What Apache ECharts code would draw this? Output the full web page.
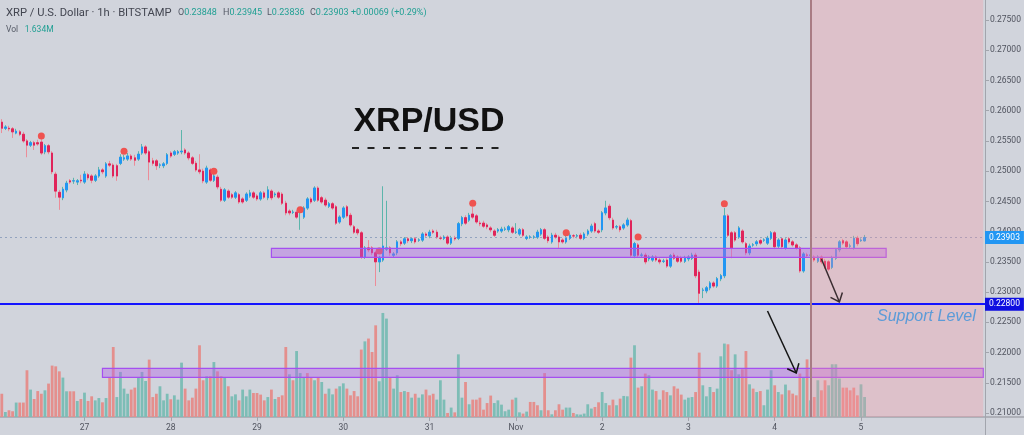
<!DOCTYPE html>
<html>
<head>
<meta charset="utf-8">
<script src="https://cdn.jsdelivr.net/npm/echarts/dist/echarts.min.js"></script>
<style>
html,body{margin:0;padding:0;background:#d1d4dc;}
#c{width:1024px;height:435px;}
</style>
</head>
<body>
<div id="c"></div>
<script>
// ---------------- DATA (hourly XRP/USD, Bitstamp) ----------------
const startTime = Date.UTC(2020, 9, 26, 1);   // first candle: Oct 26, 01:00
const categoryCount = 274;                      // candles + empty future space
const dayLabels = ['27', '28', '29', '30', '31', 'Nov', '2', '3', '4', '5'];
const firstDayIndex = 23;                       // Oct 27 00:00

const opens = [
0.2581,0.2571,0.2571,0.2570,0.2563,0.2565,0.2561,0.2550,0.2543,0.2547,
0.2547,0.2548,0.2532,0.2542,0.2530,0.2495,0.2465,0.2456,0.2469,0.2484,
0.2484,0.2482,0.2485,0.2482,0.2494,0.2492,0.2485,0.2492,0.2502,0.2492,
0.2512,0.2510,0.2509,0.2513,0.2520,0.2520,0.2525,0.2522,0.2520,0.2530,
0.2540,0.2532,0.2517,0.2517,0.2510,0.2509,0.2513,0.2530,0.2528,0.2530,
0.2532,0.2535,0.2530,0.2522,0.2513,0.2502,0.2500,0.2482,0.2502,0.2485,
0.2490,0.2470,0.2452,0.2467,0.2461,0.2457,0.2461,0.2454,0.2452,0.2459,
0.2464,0.2459,0.2454,0.2464,0.2456,0.2467,0.2461,0.2464,0.2462,0.2447,
0.2434,0.2432,0.2432,0.2432,0.2424,0.2439,0.2454,0.2452,0.2472,0.2456,
0.2452,0.2442,0.2446,0.2441,0.2416,0.2424,0.2441,0.2427,0.2408,0.2403,
0.2398,0.2358,0.2373,0.2373,0.2365,0.2350,0.2353,0.2371,0.2373,0.2361,
0.2365,0.2383,0.2381,0.2388,0.2385,0.2388,0.2386,0.2386,0.2396,0.2393,
0.2401,0.2399,0.2389,0.2389,0.2391,0.2381,0.2389,0.2389,0.2413,0.2423,
0.2419,0.2429,0.2426,0.2414,0.2414,0.2411,0.2406,0.2401,0.2401,0.2401,
0.2404,0.2403,0.2406,0.2399,0.2396,0.2403,0.2389,0.2391,0.2391,0.2391,
0.2396,0.2403,0.2391,0.2383,0.2394,0.2391,0.2386,0.2383,0.2389,0.2393,
0.2393,0.2394,0.2389,0.2396,0.2401,0.2413,0.2401,0.2403,0.2431,0.2442,
0.2419,0.2408,0.2408,0.2406,0.2411,0.2418,0.2360,0.2378,0.2361,0.2361,
0.2355,0.2353,0.2358,0.2353,0.2351,0.2353,0.2343,0.2361,0.2358,0.2356,
0.2351,0.2355,0.2356,0.2361,0.2333,0.2303,0.2302,0.2307,0.2315,0.2310,
0.2322,0.2327,0.2426,0.2398,0.2398,0.2391,0.2401,0.2380,0.2365,0.2378,
0.2380,0.2385,0.2386,0.2381,0.2389,0.2398,0.2376,0.2388,0.2373,0.2388,
0.2383,0.2378,0.2373,0.2335,0.2361,0.2361,0.2358,0.2351,0.2358,0.2351,
0.2350,0.2341,0.2356,0.2370,0.2385,0.2383,0.2376,0.2373,0.2389,0.2385,
0.23848];

const closes = [
0.2571,0.2573,0.2570,0.2565,0.2566,0.2561,0.2550,0.2543,0.2547,0.2543,
0.2545,0.2530,0.2542,0.2532,0.2499,0.2467,0.2457,0.2470,0.2480,0.2482,
0.2484,0.2484,0.2484,0.2495,0.2489,0.2485,0.2492,0.2502,0.2499,0.2512,
0.2510,0.2492,0.2492,0.2523,0.2522,0.2525,0.2520,0.2518,0.2528,0.2540,
0.2530,0.2515,0.2513,0.2509,0.2510,0.2512,0.2527,0.2525,0.2532,0.2532,
0.2533,0.2530,0.2522,0.2513,0.2502,0.2499,0.2484,0.2505,0.2485,0.2492,
0.2474,0.2452,0.2469,0.2457,0.2457,0.2464,0.2449,0.2449,0.2462,0.2464,
0.2457,0.2454,0.2464,0.2457,0.2469,0.2456,0.2462,0.2457,0.2447,0.2431,
0.2431,0.2432,0.2424,0.2434,0.2439,0.2454,0.2449,0.2472,0.2452,0.2449,
0.2444,0.2446,0.2439,0.2414,0.2424,0.2439,0.2426,0.2411,0.2399,0.2398,
0.2358,0.2373,0.2370,0.2365,0.2350,0.2356,0.2376,0.2373,0.2365,0.2363,
0.2383,0.2380,0.2388,0.2385,0.2388,0.2383,0.2386,0.2396,0.2394,0.2399,
0.2399,0.2391,0.2389,0.2391,0.2381,0.2389,0.2388,0.2413,0.2423,0.2414,
0.2427,0.2424,0.2416,0.2413,0.2409,0.2408,0.2403,0.2394,0.2403,0.2404,
0.2404,0.2408,0.2399,0.2399,0.2403,0.2394,0.2391,0.2391,0.2391,0.2399,
0.2403,0.2389,0.2385,0.2394,0.2391,0.2383,0.2383,0.2389,0.2394,0.2393,
0.2393,0.2389,0.2396,0.2401,0.2409,0.2401,0.2399,0.2431,0.2439,0.2423,
0.2406,0.2408,0.2403,0.2411,0.2419,0.2361,0.2380,0.2361,0.2361,0.2350,
0.2358,0.2358,0.2353,0.2350,0.2351,0.2343,0.2360,0.2356,0.2351,0.2351,
0.2356,0.2358,0.2361,0.2327,0.2298,0.2303,0.2307,0.2315,0.2310,0.2322,
0.2327,0.2426,0.2394,0.2373,0.2386,0.2406,0.2383,0.2365,0.2376,0.2378,
0.2383,0.2381,0.2386,0.2389,0.2398,0.2375,0.2386,0.2375,0.2386,0.2383,
0.2378,0.2373,0.2335,0.2363,0.2361,0.2361,0.2353,0.2358,0.2350,0.2341,
0.2338,0.2356,0.2370,0.2383,0.2381,0.2375,0.2376,0.2389,0.2380,0.2386,
0.23903];

const highs = [
0.2586,0.2576,0.2575,0.2573,0.2570,0.2568,0.2565,0.2553,0.2550,0.2550,
0.2552,0.2553,0.2545,0.2545,0.2533,0.2499,0.2469,0.2474,0.2484,0.2487,
0.2489,0.2487,0.2494,0.2500,0.2497,0.2495,0.2495,0.2507,0.2505,0.2515,
0.2517,0.2513,0.2512,0.2528,0.2527,0.2530,0.2528,0.2527,0.2533,0.2545,
0.2543,0.2535,0.2522,0.2520,0.2513,0.2515,0.2530,0.2533,0.2535,0.2535,
0.2568,0.2538,0.2533,0.2525,0.2517,0.2528,0.2504,0.2509,0.2505,0.2497,
0.2494,0.2474,0.2472,0.2470,0.2464,0.2467,0.2464,0.2457,0.2465,0.2469,
0.2467,0.2462,0.2467,0.2467,0.2475,0.2470,0.2465,0.2467,0.2465,0.2451,
0.2437,0.2436,0.2436,0.2434,0.2442,0.2457,0.2457,0.2475,0.2475,0.2459,
0.2456,0.2449,0.2449,0.2444,0.2427,0.2442,0.2444,0.2431,0.2411,0.2406,
0.2401,0.2376,0.2386,0.2376,0.2368,0.2360,0.2475,0.2451,0.2376,0.2366,
0.2386,0.2386,0.2391,0.2391,0.2391,0.2391,0.2389,0.2399,0.2399,0.2403,
0.2404,0.2403,0.2393,0.2394,0.2394,0.2393,0.2393,0.2416,0.2426,0.2427,
0.2431,0.2441,0.2429,0.2418,0.2418,0.2414,0.2409,0.2404,0.2406,0.2408,
0.2408,0.2411,0.2409,0.2414,0.2406,0.2406,0.2394,0.2394,0.2394,0.2403,
0.2406,0.2406,0.2394,0.2398,0.2398,0.2394,0.2389,0.2393,0.2398,0.2396,
0.2396,0.2398,0.2399,0.2404,0.2413,0.2416,0.2404,0.2434,0.2451,0.2446,
0.2423,0.2411,0.2411,0.2414,0.2423,0.2421,0.2383,0.2381,0.2365,0.2365,
0.2361,0.2361,0.2361,0.2356,0.2355,0.2356,0.2363,0.2365,0.2361,0.2360,
0.2360,0.2361,0.2365,0.2365,0.2337,0.2307,0.2310,0.2318,0.2318,0.2325,
0.2330,0.2439,0.2429,0.2401,0.2401,0.2409,0.2404,0.2383,0.2380,0.2381,
0.2386,0.2388,0.2389,0.2393,0.2401,0.2401,0.2389,0.2391,0.2389,0.2391,
0.2386,0.2381,0.2376,0.2366,0.2365,0.2365,0.2361,0.2361,0.2361,0.2355,
0.2353,0.2360,0.2373,0.2386,0.2388,0.2386,0.2380,0.2393,0.2393,0.2389,
0.23945];

const lows = [
0.2563,0.2568,0.2566,0.2555,0.2561,0.2558,0.2547,0.2523,0.2540,0.2535,
0.2542,0.2527,0.2528,0.2528,0.2495,0.2456,0.2436,0.2452,0.2465,0.2479,
0.2479,0.2477,0.2480,0.2479,0.2485,0.2480,0.2482,0.2489,0.2495,0.2489,
0.2507,0.2489,0.2484,0.2510,0.2517,0.2517,0.2517,0.2509,0.2517,0.2527,
0.2527,0.2485,0.2509,0.2502,0.2505,0.2505,0.2510,0.2522,0.2525,0.2527,
0.2528,0.2527,0.2518,0.2510,0.2499,0.2495,0.2480,0.2479,0.2482,0.2482,
0.2470,0.2449,0.2449,0.2454,0.2454,0.2454,0.2446,0.2446,0.2449,0.2456,
0.2454,0.2451,0.2451,0.2454,0.2452,0.2452,0.2457,0.2454,0.2444,0.2427,
0.2427,0.2429,0.2421,0.2403,0.2421,0.2436,0.2446,0.2449,0.2449,0.2446,
0.2441,0.2439,0.2436,0.2411,0.2413,0.2421,0.2423,0.2408,0.2396,0.2394,
0.2355,0.2355,0.2366,0.2361,0.2310,0.2333,0.2350,0.2368,0.2360,0.2358,
0.2361,0.2376,0.2378,0.2381,0.2381,0.2380,0.2383,0.2383,0.2391,0.2389,
0.2396,0.2388,0.2386,0.2386,0.2378,0.2378,0.2385,0.2386,0.2409,0.2411,
0.2416,0.2421,0.2413,0.2409,0.2406,0.2404,0.2399,0.2391,0.2398,0.2398,
0.2401,0.2399,0.2396,0.2396,0.2393,0.2391,0.2386,0.2388,0.2388,0.2388,
0.2393,0.2386,0.2381,0.2380,0.2388,0.2373,0.2380,0.2380,0.2386,0.2389,
0.2389,0.2386,0.2386,0.2393,0.2398,0.2398,0.2396,0.2399,0.2427,0.2419,
0.2403,0.2404,0.2399,0.2403,0.2408,0.2358,0.2356,0.2358,0.2358,0.2346,
0.2351,0.2350,0.2350,0.2346,0.2348,0.2340,0.2340,0.2353,0.2348,0.2348,
0.2348,0.2351,0.2353,0.2323,0.2282,0.2290,0.2298,0.2303,0.2307,0.2307,
0.2318,0.2323,0.2391,0.2356,0.2383,0.2388,0.2380,0.2361,0.2361,0.2375,
0.2376,0.2378,0.2383,0.2378,0.2386,0.2371,0.2373,0.2371,0.2370,0.2380,
0.2375,0.2370,0.2332,0.2332,0.2358,0.2358,0.2350,0.2348,0.2346,0.2338,
0.2335,0.2338,0.2353,0.2366,0.2378,0.2371,0.2373,0.2370,0.2376,0.2383,
0.23836];

// volume in millions
const volumes = [
1.90,0.41,0.55,0.47,1.18,1.18,1.18,3.82,2.24,1.47,
2.12,1.90,2.18,2.73,4.20,4.14,3.73,3.22,2.10,2.10,
2.10,1.31,1.47,1.99,1.31,1.69,1.36,1.55,1.20,1.55,
3.22,5.72,1.63,3.68,2.32,1.90,2.24,2.40,3.22,3.68,
2.94,4.69,1.63,1.90,2.51,1.36,1.90,1.45,1.77,1.42,
4.44,2.32,1.36,1.58,2.32,5.86,3.00,3.33,3.33,4.49,
3.73,3.33,3.27,2.51,1.69,1.85,1.36,2.24,1.69,2.24,
1.96,1.96,1.83,1.36,1.63,2.24,1.47,1.63,1.77,5.72,
3.49,3.00,5.39,3.59,3.27,3.59,3.22,3.00,3.27,2.86,
1.90,2.32,1.85,2.32,2.51,2.75,2.32,1.77,2.12,1.69,
5.51,6.18,6.41,5.31,7.49,2.92,8.50,8.04,3.22,2.32,
3.41,2.04,2.12,2.04,1.58,1.90,1.58,1.85,2.24,1.77,
1.90,1.42,3.00,1.42,0.33,0.77,0.38,5.12,1.58,2.86,
1.04,1.42,1.42,1.58,0.60,1.14,1.75,1.14,1.36,1.01,
0.47,0.60,1.42,1.58,0.38,0.28,0.44,1.23,1.23,0.96,
0.55,3.59,0.55,0.22,0.55,1.04,0.60,0.77,0.77,0.33,
0.22,0.20,0.28,1.04,0.69,0.82,1.20,2.04,1.14,0.96,
1.42,0.96,1.50,1.72,1.69,4.85,5.86,2.40,2.51,3.55,
3.41,2.24,2.12,1.42,2.18,2.04,1.77,2.51,2.32,1.83,
1.42,1.58,1.63,2.04,5.26,2.59,1.69,2.45,2.04,2.32,
4.96,6.00,5.94,3.82,5.12,3.49,3.90,5.39,2.67,2.32,
2.04,2.12,0.96,2.24,3.82,2.59,2.04,1.85,2.65,2.18,
1.91,1.77,3.55,3.27,4.71,1.36,1.63,3.00,2.18,3.00,
2.59,4.31,4.31,3.14,2.40,2.40,2.18,2.40,1.77,2.67,
1.634];

// 1 = up bar (teal), 0 = down bar (red)
const volumeUp = [
0,1,0,0,1,0,0,0,1,0, 0,0,1,0,0,0,0,1,1,0, 0,1,0,1,0,0,1,1,0,1,
0,0,1,1,1,1,0,0,1,1, 1,0,0,0,1,1,1,0,1,1, 1,0,0,0,0,0,0,1,0,1,
0,0,1,0,1,1,0,1,1,1, 0,0,0,0,1,0,1,0,0,0, 1,0,1,1,1,0,0,1,0,1,
0,1,1,0,1,1,0,0,0,0, 0,1,0,0,0,1,1,1,0,1, 1,0,1,0,1,0,1,1,0,0,
0,1,1,1,0,1,0,1,1,0, 1,0,0,0,0,0,0,1,1,1, 1,1,0,1,1,0,1,0,0,0,
1,0,0,1,0,0,0,1,1,0, 1,1,1,1,1,0,0,1,1,0, 0,1,0,1,1,0,1,0,1,0,
1,1,0,1,0,0,1,0,0,0, 1,1,1,0,0,1,1,1,0,1, 1,1,0,0,1,1,0,0,1,0,
1,0,1,1,1,0,1,0,1,0, 0,0,0,1,0,1,0,1,0,0, 1,1,1,1,0,0,0,0,0,1,
1];

// indicator dots above swing highs
const dotIndex = [11, 34, 59, 83, 105, 131, 157, 177, 201];
const dotPrice = [0.2558, 0.2533, 0.2500, 0.2436, 0.2368, 0.2447, 0.2398, 0.2391, 0.2446];

// annotations
const lastClose = 0.23903;
const supportLevel = 0.228;
const priceBand = [0.23575, 0.23724];      // purple zone on price
const priceBandRange = [75, 246];
const volumeBand = [3.24, 3.98];           // purple zone on volume
const volumeBandRange = [28, 273];
const forecastRange = [225, 273];          // shaded future area
const arrowStarts = [[213, 0.22687], [228, 0.23547]];
const arrowEnds = [[221, 0.21662], [233, 0.22836]];

// ---------------- BUILD ----------------
const times = [];
for (let k = 0; k < categoryCount; k++) {
  const d = new Date(startTime + k * 3600000);
  times.push(d.toISOString().slice(0, 13).replace('T', ' ') + ':00');
}
const labelAt = {};
dayLabels.forEach((t, k) => { labelAt[firstDayIndex + 24 * k] = t; });
const showLabel = (idx) => labelAt[idx] !== undefined;

const UP_BODY = '#2196f3', DOWN_BODY = '#e0245a';
const UP_WICK = '#5cb5ab', DOWN_WICK = '#ec8c98';
const UP_VOL = '#7dbdb6', DOWN_VOL = '#e48f8d';

const wickData = opens.map((o, i) => [o, closes[i], lows[i], highs[i]]);
const bodyData = opens.map((o, i) => [o, closes[i], Math.min(o, closes[i]), Math.max(o, closes[i])]);
const volData = volumes.map((v, i) => ({ value: v, itemStyle: { color: volumeUp[i] ? UP_VOL : DOWN_VOL } }));
const dotData = dotIndex.map((x, k) => [x, dotPrice[k]]);

const chart = echarts.init(document.getElementById('c'), null, { renderer: 'canvas' });

const option = {
  animation: false,
  backgroundColor: '#d1d4dc',
  grid: { left: 0, right: 39, top: 0, bottom: 18, containLabel: false, outerBoundsMode: 'none' },
  xAxis: {
    type: 'category', data: times, boundaryGap: true,
    axisLine: { show: true, lineStyle: { color: '#a2a5ad', width: 1.5 } },
    axisTick: { show: true, alignWithLabel: true, interval: (i) => showLabel(i), length: 4, lineStyle: { color: '#a2a5ad' } },
    axisLabel: { interval: (i) => showLabel(i), formatter: (v, i) => labelAt[i] || '', color: '#50535e', fontSize: 8.5, margin: 6, fontFamily: 'Roboto' },
    splitLine: { show: false }
  },
  yAxis: [
    {
      type: 'value', position: 'right', min: 0.209336, max: 0.278308, splitNumber: 14,
      axisLine: { show: true, lineStyle: { color: '#a2a5ad', width: 1 } },
      axisTick: { show: true, length: 4, lineStyle: { color: '#a2a5ad' } },
      axisLabel: { color: '#50535e', fontSize: 8.5, margin: 5, fontFamily: 'Roboto', showMinLabel: false, showMaxLabel: false, formatter: (v) => v.toFixed(5) },
      splitLine: { show: false }
    },
    { type: 'value', min: 0, max: 34.07, show: false }
  ],
  series: [
    {
      name: 'volume', type: 'bar', yAxisIndex: 1, data: volData, barWidth: '78%', z: 1, silent: true
    },
    {
      name: 'wicks', type: 'candlestick', data: wickData, barWidth: 2, z: 2, silent: true,
      itemStyle: { color: 'transparent', color0: 'transparent', borderColor: UP_WICK, borderColor0: DOWN_WICK, borderWidth: 1 }
    },
    {
      name: 'bodies', type: 'candlestick', data: bodyData, barWidth: 2, z: 3, silent: true,
      itemStyle: { color: UP_BODY, color0: DOWN_BODY, borderColor: UP_BODY, borderColor0: DOWN_BODY, borderWidth: 1 }
    },
    {
      name: 'dots', type: 'scatter', data: dotData, symbolSize: 7, z: 4, silent: true,
      itemStyle: { color: '#ef5350', opacity: 1 }
    },
    {
      name: 'priceZone', type: 'line', yAxisIndex: 0, data: [], silent: true,
      markArea: {
        silent: true, z: 10,
        itemStyle: { color: 'rgba(178,98,232,0.42)', borderColor: '#a54ff0', borderWidth: 1.2 },
        data: [[{ xAxis: priceBandRange[0], yAxis: priceBand[0] }, { xAxis: priceBandRange[1], yAxis: priceBand[1] }]]
      },
      markLine: {
        silent: true, z: 3, symbol: ['none', 'none'], precision: 6,
        data: [{
          yAxis: lastClose,
          lineStyle: { color: '#93a3bf', width: 1, type: [2, 3] },
          label: { show: true, position: 'end', distance: 0, formatter: lastClose.toFixed(5), backgroundColor: '#2196f3', color: '#ffffff', fontSize: 8.5, fontFamily: 'Roboto', padding: [2, 4, 2, 4] }
        }]
      }
    },
    {
      name: 'volumeZone', type: 'line', yAxisIndex: 1, data: [], silent: true,
      markArea: {
        silent: true, z: 10,
        itemStyle: { color: 'rgba(178,98,232,0.42)', borderColor: '#a54ff0', borderWidth: 1.2 },
        data: [[{ xAxis: volumeBandRange[0], yAxis: volumeBand[0] }, { xAxis: volumeBandRange[1], yAxis: volumeBand[1] }]]
      }
    },
    {
      name: 'forecast', type: 'line', yAxisIndex: 0, data: [], silent: true,
      markArea: {
        silent: true, z: 11,
        itemStyle: { color: 'rgba(249,149,163,0.30)' },
        data: [[{ xAxis: forecastRange[0] }, { xAxis: forecastRange[1] }]]
      },
      markLine: {
        silent: true, z: 12, symbol: ['none', 'none'], precision: 6,
        data: [
          {
            yAxis: supportLevel,
            lineStyle: { color: '#1414ff', width: 2, type: 'solid' },
            label: { show: true, position: 'end', distance: 0, formatter: supportLevel.toFixed(5), backgroundColor: '#0e0ee0', color: '#ffffff', fontSize: 8.5, fontFamily: 'Roboto', padding: [2, 4, 2, 4] }
          },
          {
            xAxis: forecastRange[0],
            lineStyle: { color: '#a87c84', width: 2, type: 'solid' },
            label: { show: false }
          }
        ]
      }
    }
  ]
};
chart.setOption(option);

// ---------------- overlay graphics ----------------
const gfx = [];
const hdrY = 13;
gfx.push({ type: 'text', x: 6, y: hdrY, z: 100, style: { text: 'XRP / U.S. Dollar · 1h · BITSTAMP', fill: '#434651', fontSize: 11.2, fontFamily: 'Roboto', verticalAlign: 'middle' } });
const ohlc = [['O', opens[opens.length - 1], 178], ['H', highs[highs.length - 1], 223], ['L', lows[lows.length - 1], 267], ['C', closes[closes.length - 1], 310]];
ohlc.forEach(([k, v, x]) => {
  gfx.push({ type: 'text', x: x, y: hdrY, z: 100, style: {
    text: '{k|' + k + '}{v|' + v.toFixed(5) + '}', verticalAlign: 'middle',
    rich: { k: { fill: '#555a66', fontSize: 9, fontFamily: 'Roboto' }, v: { fill: '#22a094', fontSize: 9, fontFamily: 'Roboto' } }
  } });
});
gfx.push({ type: 'text', x: 351, y: hdrY, z: 100, style: { text: '+0.00069 (+0.29%)', fill: '#22a094', fontSize: 9, fontFamily: 'Roboto', verticalAlign: 'middle' } });
gfx.push({ type: 'text', x: 6, y: 30, z: 100, style: {
  text: '{k|Vol}  {v|' + volumes[volumes.length - 1].toFixed(3) + 'M}', verticalAlign: 'middle',
  rich: { k: { fill: '#555a66', fontSize: 8.5, fontFamily: 'Roboto' }, v: { fill: '#22a094', fontSize: 8.5, fontFamily: 'Roboto' } }
} });

// title
gfx.push({ type: 'text', x: 429, y: 122, z: 100, style: { text: 'XRP/USD', fill: '#111111', fontSize: 34, fontWeight: 'bold', fontFamily: 'Liberation Sans', align: 'center', verticalAlign: 'middle' } });
gfx.push({ type: 'line', z: 100, shape: { x1: 352, y1: 148, x2: 507, y2: 148 }, style: { stroke: '#222222', lineWidth: 2, lineDash: [7, 8.5] } });

// support label
const sp = chart.convertToPixel({ xAxisIndex: 0, yAxisIndex: 0 }, [0, supportLevel]);
gfx.push({ type: 'text', x: 877, y: sp[1] + 12, z: 100, style: { text: 'Support Level', fill: '#5b9bd8', fontSize: 16, fontStyle: 'italic', fontFamily: 'Liberation Sans', verticalAlign: 'middle' } });

// arrows
const arrowColors = ['#141414', '#3a2d31'];
arrowStarts.forEach((s, k) => {
  const p0 = chart.convertToPixel({ xAxisIndex: 0, yAxisIndex: 0 }, s);
  const p1 = chart.convertToPixel({ xAxisIndex: 0, yAxisIndex: 0 }, arrowEnds[k]);
  const dx = p1[0] - p0[0], dy = p1[1] - p0[1];
  const len = Math.hypot(dx, dy), ux = dx / len, uy = dy / len;
  const hl = 10, a = 40 * Math.PI / 180, ca = Math.cos(a), sa = Math.sin(a);
  const h1 = [p1[0] - hl * (ux * ca - uy * sa), p1[1] - hl * (uy * ca + ux * sa)];
  const h2 = [p1[0] - hl * (ux * ca + uy * sa), p1[1] - hl * (uy * ca - ux * sa)];
  gfx.push({ type: 'line', z: 100, shape: { x1: p0[0], y1: p0[1], x2: p1[0], y2: p1[1] }, style: { stroke: arrowColors[k], lineWidth: 1.5 } });
  gfx.push({ type: 'polyline', z: 100, shape: { points: [h1, p1, h2] }, style: { stroke: arrowColors[k], lineWidth: 1.5, fill: null } });
});

// pane borders extending into the price scale
gfx.push({ type: 'line', z: 100, shape: { x1: 985, y1: 417, x2: 1024, y2: 417 }, style: { stroke: '#a2a5ad', lineWidth: 1.5 } });
gfx.push({ type: 'line', z: 100, shape: { x1: 985.5, y1: 417, x2: 985.5, y2: 435 }, style: { stroke: '#a2a5ad', lineWidth: 1 } });

chart.setOption({ graphic: gfx });
</script>
</body>
</html>
